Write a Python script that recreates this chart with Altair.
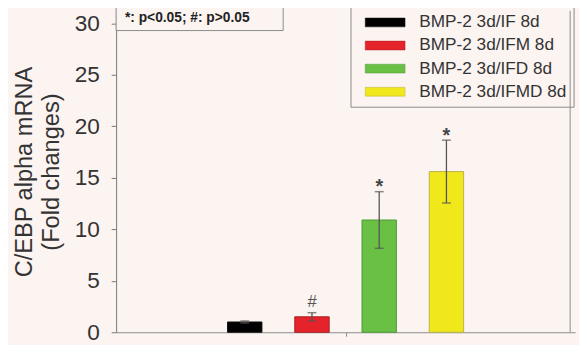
import altair as alt
import pandas as pd

categories = ["BMP-2 3d/IF 8d", "BMP-2 3d/IFM 8d", "BMP-2 3d/IFD 8d", "BMP-2 3d/IFMD 8d"]
means = [1.0, 1.5, 10.9, 15.6]
errors = [0.1, 0.4, 2.75, 3.05]
signif = ["", "#", "*", "*"]
fill_colors = ["#000000", "#e6222a", "#6abf45", "#f1e81c"]
outline_colors = ["#111111", "#a81e22", "#4e9a37", "#b8b04a"]
y_ticks = [0, 5, 10, 15, 20, 25, 30]
y_title = ["C/EBP alpha mRNA", "(Fold changes)"]
note_text = "*: p<0.05; #: p>0.05"

df = pd.DataFrame({
    "group": categories,
    "pos": list(range(1, len(categories) + 1)),
    "mean": means,
    "err": errors,
    "sig": signif,
})
df["lo"] = df["mean"] - df["err"]
df["hi"] = df["mean"] + df["err"]

W, H = 467, 327
FONT = "Liberation Sans"
xscale = alt.Scale(domain=[-0.84, 5.84], nice=False, zero=False)
yscale = alt.Scale(domain=[0, 31.2], nice=False, zero=True)

base = alt.Chart(df)

bars = base.mark_bar(size=35, strokeWidth=1).encode(
    x=alt.X("pos:Q", scale=xscale,
            axis=alt.Axis(values=[2.5], labels=False, tickSize=4, grid=False, title=None,
                          domainColor="#8a8a8a", tickColor="#8a8a8a")),
    y=alt.Y("mean:Q", scale=yscale,
            axis=alt.Axis(values=y_ticks, title=y_title, grid=False)),
    fill=alt.Fill("group:N", scale=alt.Scale(domain=categories, range=fill_colors),
                  legend=alt.Legend(title=None, orient="none", legendX=265, legendY=3,
                                    symbolType="M-4.5,-1H4.5V1H-4.5Z", symbolSize=81,
                                    symbolStrokeColor="#666", symbolStrokeWidth=0.5,
                                    labelFont=FONT, labelFontSize=17.5, labelColor="#333",
                                    labelOffset=26, rowPadding=4.5, padding=0)),
    stroke=alt.Stroke("group:N", scale=alt.Scale(domain=categories, range=outline_colors),
                      legend=None),
)

err_rules = base.mark_rule(color="#555", strokeWidth=1.3).encode(
    x="pos:Q", y="lo:Q", y2="hi:Q")
caps_lo = base.mark_tick(orient="horizontal", size=9, thickness=1.5, color="#555").encode(
    x="pos:Q", y="lo:Q")
caps_hi = base.mark_tick(orient="horizontal", size=9, thickness=1.5, color="#555").encode(
    x="pos:Q", y="hi:Q")

stars = base.transform_filter(alt.datum.sig == "*").mark_text(
    font=FONT, fontSize=20, fontWeight="bold", color="#444", baseline="alphabetic", dy=1.5
).encode(x="pos:Q", y="hi:Q", text="sig:N")
hashes = base.transform_filter(alt.datum.sig == "#").mark_text(
    font=FONT, fontSize=17, fontStyle="italic", color="#555", baseline="alphabetic", dy=-6
).encode(x="pos:Q", y="hi:Q", text="sig:N")

right_border = alt.Chart(pd.DataFrame({"v": [5.84]})).mark_rule(color="#8a8a8a").encode(
    x=alt.X("v:Q", scale=xscale), y=alt.value(0), y2=alt.value(H))

note_df = pd.DataFrame({"note": [note_text]})
note_box = alt.Chart(note_df).mark_rect(fill="#fcf4f1", stroke="#8a8a8a", strokeWidth=1).encode(
    x=alt.value(0), x2=alt.value(170), y=alt.value(-5), y2=alt.value(20))
note = alt.Chart(note_df).mark_text(font=FONT, fontSize=14, fontWeight="bold", color="#222",
                                    align="left", baseline="middle").encode(
    x=alt.value(9), y=alt.value(7.5), text="note:N")

legend_box = alt.Chart(note_df).mark_rect(fill="#fcf4f1", stroke="#8a8a8a", strokeWidth=1).encode(
    x=alt.value(239), x2=alt.value(466), y=alt.value(-10), y2=alt.value(98))

chart = alt.layer(
    legend_box, note_box, note, bars, err_rules, caps_lo, caps_hi, stars, hashes, right_border
).properties(
    width=W, height=H,
    autosize=alt.AutoSizeParams(type="none"),
    padding={"left": 110, "top": 0, "right": 4, "bottom": 10},
    background="#fcf4f1",
).configure_view(stroke=None).configure_axis(
    labelFont=FONT, labelFontSize=23, labelColor="#333", labelPadding=12,
    tickSize=5, tickColor="#777", domainColor="#777",
    titleFont=FONT, titleFontSize=24, titleColor="#333", titleFontWeight="normal",
    titlePadding=11, titleLineHeight=28,
)

chart.save("out.html", embed_options={"renderer": "svg", "actions": False})
